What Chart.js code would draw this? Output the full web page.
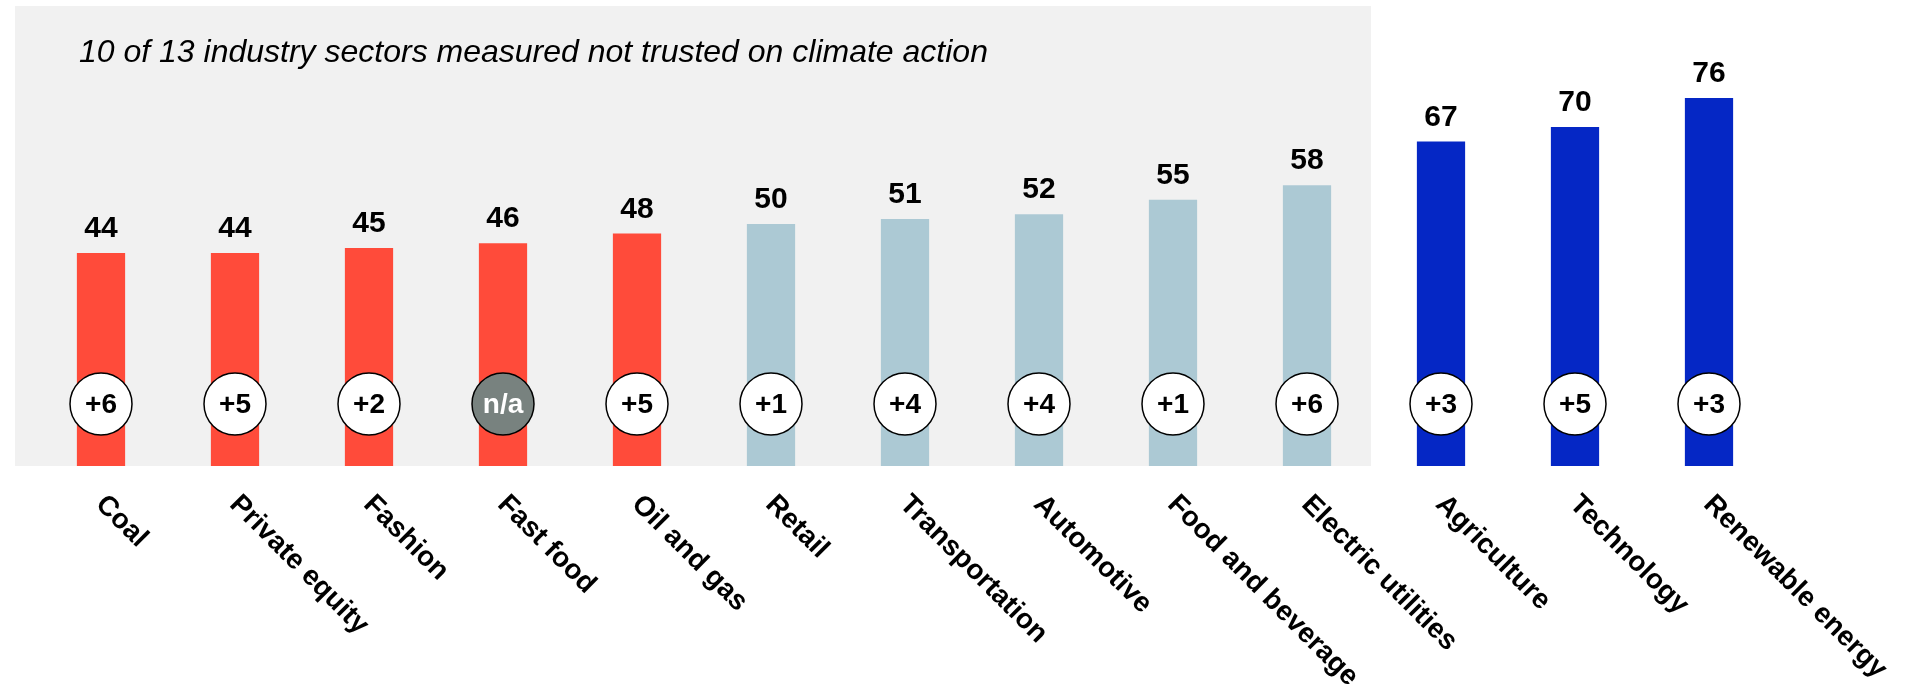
<!DOCTYPE html>
<html>
<head>
<meta charset="utf-8">
<script src="https://cdn.jsdelivr.net/npm/chart.js@4"></script>
<style>
  html, body { margin: 0; padding: 0; background: #fff; }
  #wrap { width: 1911px; height: 692px; }
</style>
</head>
<body>
<div id="wrap"><canvas id="trustChart" width="1911" height="692"></canvas></div>
<script>
const sectors = ['Coal', 'Private equity', 'Fashion', 'Fast food', 'Oil and gas', 'Retail',
  'Transportation', 'Automotive', 'Food and beverage', 'Electric utilities', 'Agriculture',
  'Technology', 'Renewable energy'];
const trustScores = [44, 44, 45, 46, 48, 50, 51, 52, 55, 58, 67, 70, 76];
const changes = ['+6', '+5', '+2', 'n/a', '+5', '+1', '+4', '+4', '+1', '+6', '+3', '+5', '+3'];
const trustLevel = ['distrust', 'distrust', 'distrust', 'distrust', 'distrust',
  'neutral', 'neutral', 'neutral', 'neutral', 'neutral', 'trust', 'trust', 'trust'];
const titleText = '10 of 13 industry sectors measured not trusted on climate action';

const levelColors = { distrust: '#ff4b3a', neutral: '#acc9d4', trust: '#0527c5' };
const FONT = '"Liberation Sans", Arial, sans-serif';

// grey box behind the not-trusted sectors + title
const backdrop = {
  id: 'backdrop',
  beforeDatasetsDraw(chart) {
    const { ctx, chartArea, scales: { x } } = chart;
    const lastGrey = trustLevel.lastIndexOf('neutral');
    const right = (x.getPixelForValue(lastGrey) + x.getPixelForValue(lastGrey + 1)) / 2;
    ctx.save();
    ctx.fillStyle = '#f1f1f1';
    ctx.fillRect(15, chartArea.top, right - 15 - 3, chartArea.bottom - chartArea.top);
    ctx.fillStyle = '#000';
    ctx.font = 'italic 32px ' + FONT;
    ctx.textBaseline = 'middle';
    ctx.fillText(titleText, 79, 53);
    ctx.restore();
  }
};

const annotations = {
  id: 'annotations',
  afterDatasetsDraw(chart) {
    const { ctx, chartArea } = chart;
    const meta = chart.getDatasetMeta(0);
    ctx.save();
    meta.data.forEach((bar, i) => {
      // value on top
      ctx.fillStyle = '#000';
      ctx.font = 'bold 30px ' + FONT;
      ctx.textAlign = 'center';
      ctx.textBaseline = 'alphabetic';
      ctx.fillText(String(trustScores[i]), bar.x, bar.y - 16);

      // change bubble
      const cy = chartArea.bottom - 62;
      ctx.beginPath();
      ctx.arc(bar.x, cy, 31, 0, Math.PI * 2);
      ctx.fillStyle = changes[i] === 'n/a' ? '#78827f' : '#fff';
      ctx.fill();
      ctx.lineWidth = 1.5;
      ctx.strokeStyle = '#000';
      ctx.stroke();
      ctx.fillStyle = changes[i] === 'n/a' ? '#fff' : '#000';
      ctx.font = 'bold 28px ' + FONT;
      ctx.textBaseline = 'middle';
      ctx.fillText(changes[i], bar.x, cy + 1);

      // rotated sector label
      ctx.save();
      ctx.translate(bar.x - 1, chartArea.bottom + 34);
      ctx.rotate(Math.PI / 4);
      ctx.textAlign = 'left';
      ctx.textBaseline = 'middle';
      ctx.font = 'bold 28px ' + FONT;
      ctx.fillStyle = '#000';
      ctx.fillText(sectors[i], 0, 0);
      ctx.restore();
    });
    ctx.restore();
  }
};

new Chart(document.getElementById('trustChart'), {
  type: 'bar',
  data: {
    labels: sectors,
    datasets: [{
      label: 'Trust',
      data: trustScores,
      backgroundColor: trustLevel.map(l => levelColors[l]),
      borderWidth: 0,
      barPercentage: 0.36,
      categoryPercentage: 1
    }]
  },
  options: {
    responsive: false,
    animation: false,
    layout: { padding: { left: 34, right: 135, top: 6, bottom: 226 } },
    plugins: { legend: { display: false }, tooltip: { enabled: false } },
    scales: {
      x: { display: false },
      y: { display: false, min: 0, max: 95 }
    }
  },
  plugins: [backdrop, annotations]
});
</script>
</body>
</html>
